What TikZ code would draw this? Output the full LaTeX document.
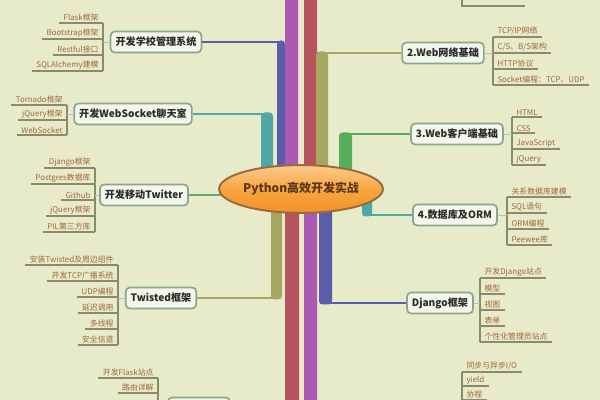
\documentclass[tikz,border=0pt]{standalone}
\usepackage{fontspec}
\setmainfont{Noto Sans CJK SC}
\usetikzlibrary{shapes.geometric}

\definecolor{bgcol}{HTML}{E8EBC9}
\definecolor{barblue}{HTML}{5A5DA8}
\definecolor{barmag}{HTML}{AA5AB2}
\definecolor{barred}{HTML}{B5545C}
\definecolor{barolive}{HTML}{A6A862}
\definecolor{barteal}{HTML}{4FA7A8}
\definecolor{bargreen}{HTML}{58AD5A}
\definecolor{twgreen}{HTML}{68A86A}
\definecolor{topicline}{HTML}{8BA68D}
\definecolor{topicfill}{HTML}{F3F6EA}
\definecolor{topictext}{HTML}{2B2B2B}
\definecolor{leaftext}{HTML}{A0663E}
\definecolor{ulinecol}{HTML}{8A8B6E}
\definecolor{hintcol}{HTML}{A9C5CA}
\definecolor{rootline}{HTML}{9A6A3C}
\definecolor{roottext}{HTML}{5A3718}
\definecolor{roottop}{HTML}{FCCB8E}
\definecolor{rootmid}{HTML}{F7A640}
\definecolor{rootbot}{HTML}{F2912A}

\tikzset{
  topic/.style={draw=topicline, line width=1.2pt, fill=topicfill, rounded corners=3pt,
    font=\fontsize{7.2}{8}\selectfont\bfseries, text=topictext,
    inner xsep=3.5pt, minimum height=15pt},
  leaf/.style={font=\fontsize{5.6}{6}\selectfont, text=leaftext,
    inner xsep=3pt, inner ysep=1pt},
  uline/.style={draw=ulinecol, line width=0.8pt},
  hint/.style={draw=hintcol, line width=0.5pt},
  twig/.style={line width=2pt},
  bar/.style={rounded corners=2.5pt},
  rootnode/.style={ellipse, draw=rootline, line width=1.4pt,
    top color=roottop, bottom color=rootbot, middle color=rootmid,
    minimum width=111pt, minimum height=34pt, inner sep=0pt,
    font=\fontsize{8.5}{9}\selectfont\bfseries, text=roottext},
}

\begin{document}
\begin{tikzpicture}[x=0.025cm, y=-0.025cm]
	% Hintergrund
	\fill[bgcol] (0,0) rectangle (600,400);
	\useasboundingbox (0,0) rectangle (600,400);
	\coordinate (rootc) at (301,189);

	% Aeste oben
	\fill[barmag, bar] (285,-10) rectangle (298,200);
	\fill[barred, bar] (304,-10) rectangle (317,200);
	\fill[barblue, bar] (277,40.5) rectangle (285,200);
	\fill[barteal, bar] (261,112.5) rectangle (273,200);
	\fill[barolive, bar] (316,51.5) rectangle (328,200);
	\fill[bargreen, bar] (339,132.5) rectangle (352,200);
	% Aeste unten
	\fill[barolive, bar] (271,180) rectangle (282,299.5);
	\fill[barred, bar] (285,180) rectangle (299,410);
	\fill[barmag, bar] (304,180) rectangle (317,410);
	\fill[barblue, bar] (319,180) rectangle (332,304.5);
	\fill[barteal, bar] (362,195) rectangle (372,216.5);

	% Knicke der Aeste
	\coordinate (kschool) at (284,42);
	\coordinate (kws) at (272,114);
	\coordinate (ktwist) at (281,298);
	\coordinate (kweb2) at (317,53);
	\coordinate (kweb3) at (340,134);
	\coordinate (kdb) at (363,215);
	\coordinate (kdjango) at (320,303);

	% Themen
	\node[topic] (school) at (156,42) {开发学校管理系统};
	\node[topic] (websocket) at (133,114) {开发WebSocket聊天室};
	\node[topic] (twitter) at (144,195) {开发移动Twitter};
	\node[topic] (twisted) at (161,298) {Twisted框架};
	\node[topic] (web2) at (443,53) {2.Web网络基础};
	\node[topic] (web3) at (457,134) {3.Web客户端基础};
	\node[topic] (db) at (455,215) {4.数据库及ORM};
	\node[topic] (django) at (440,303) {Django框架};
	\node[topic, minimum width=44pt] (flaskweb) at (199,408) {};

	% Verbindungen
	\draw[twig, barblue] (school.east) -- (kschool);
	\draw[twig, barteal] (websocket.east) -- (kws);
	\draw[twig, barolive] (twisted.east) -- (ktwist);
	\draw[twig, barolive] (kweb2) -- (web2.west);
	\draw[twig, bargreen] (kweb3) -- (web3.west);
	\draw[twig, barteal] (kdb) -- (db.west);
	\draw[twig, barblue] (kdjango) -- (django.west);
	\draw[twig, twgreen] (twitter.east) -- (twitter.east -| rootc);

	% Zentrum
	\node[rootnode] (root) at (rootc) {Python高效开发实战};

	% Unterpunkte links
	\foreach \t [count=\i] in {Flask框架,Bootstrap框架,Restful接口,SQLAlchemy建模} {
		\node[leaf, anchor=south east] (sch\i) at (103, 7+16*\i) {\t};
		\draw[uline] (sch\i.south west) -- (sch\i.south east);
	}
	\draw[uline] (sch1.south east) -- (sch4.south east);
	\draw[hint] (school.west) -- (school.west -| sch1.south east);

	\foreach \t [count=\i] in {Tornado框架,jQuery框架,WebSocket} {
		\node[leaf, anchor=south east] (ws\i) at (67, 90+15*\i) {\t};
		\draw[uline] (ws\i.south west) -- (ws\i.south east);
	}
	\draw[uline] (ws1.south east) -- (ws3.south east);
	\draw[hint] (websocket.west) -- (websocket.west -| ws1.south east);

	\foreach \t [count=\i] in {Django框架,Postgres数据库,Github,jQuery框架,PIL第三方库} {
		\node[leaf, anchor=south east] (tw\i) at (95, 152+16*\i) {\t};
		\draw[uline] (tw\i.south west) -- (tw\i.south east);
	}
	\draw[uline] (tw1.south east) -- (tw5.south east);
	\draw[hint] (twitter.west) -- (twitter.west -| tw1.south east);

	\foreach \t [count=\i] in {安装Twisted及周边组件,开发TCP广播系统,UDP编程,延迟调用,多线程,安全信道} {
		\node[leaf, anchor=south east] (tx\i) at (118, 249+16*\i) {\t};
		\draw[uline] (tx\i.south west) -- (tx\i.south east);
	}
	\draw[uline] (tx1.south east) -- (tx6.south east);
	\draw[hint] (twisted.west) -- (twisted.west -| tx1.south east);

	\foreach \t [count=\i] in {开发Flask站点,路由详解} {
		\node[leaf, anchor=south east] (fl\i) at (158, 363+15*\i) {\t};
		\draw[uline] (fl\i.south west) -- (fl\i.south east);
	}
	\draw[uline] (fl1.south east) -- ++(0,30);

	% Unterpunkte rechts
	\foreach \t [count=\i] in {TCP/IP网络,C/S、B/S架构,HTTP协议,Socket编程：TCP、UDP} {
		\node[leaf, anchor=south west] (wn\i) at (493, 21+16*\i) {\t};
		\draw[uline] (wn\i.south west) -- (wn\i.south east);
	}
	\draw[uline] (wn1.south west) -- (wn4.south west);
	\draw[hint] (web2.east) -- (web2.east -| wn1.south west);

	\foreach \t [count=\i] in {HTML,CSS,JavaScript,jQuery} {
		\node[leaf, anchor=south west] (wc\i) at (512, 101+16*\i) {\t};
		\draw[uline] (wc\i.south west) -- (wc\i.south east);
	}
	\draw[uline] (wc1.south west) -- (wc4.south west);
	\draw[hint] (web3.east) -- (web3.east -| wc1.south west);

	\foreach \t [count=\i] in {关系数据库建模,SQL语句,ORM编程,Peewee库} {
		\node[leaf, anchor=south west] (dbi\i) at (507, 181+16*\i) {\t};
		\draw[uline] (dbi\i.south west) -- (dbi\i.south east);
	}
	\draw[uline] (dbi1.south west) -- (dbi4.south west);
	\draw[hint] (db.east) -- (db.east -| dbi1.south west);

	\foreach \t [count=\i] in {开发Django站点,模型,视图,表单,个性化管理员站点} {
		\node[leaf, anchor=south west] (dj\i) at (480, 262+16*\i) {\t};
		\draw[uline] (dj\i.south west) -- (dj\i.south east);
	}
	\draw[uline] (dj1.south west) -- (dj5.south west);
	\draw[hint] (django.east) -- (django.east -| dj1.south west);

	\foreach \t [count=\i] in {同步与异步I/O,yield,协程} {
		\node[leaf, anchor=south west] (as\i) at (462, 358+14*\i) {\t};
		\draw[uline] (as\i.south west) -- (as\i.south east);
	}
	\draw[uline] (as1.south west) -- ++(0,40);

	% Rest oben rechts
	\draw[uline] (462,-10) |- (525,6);
\end{tikzpicture}
\end{document}
